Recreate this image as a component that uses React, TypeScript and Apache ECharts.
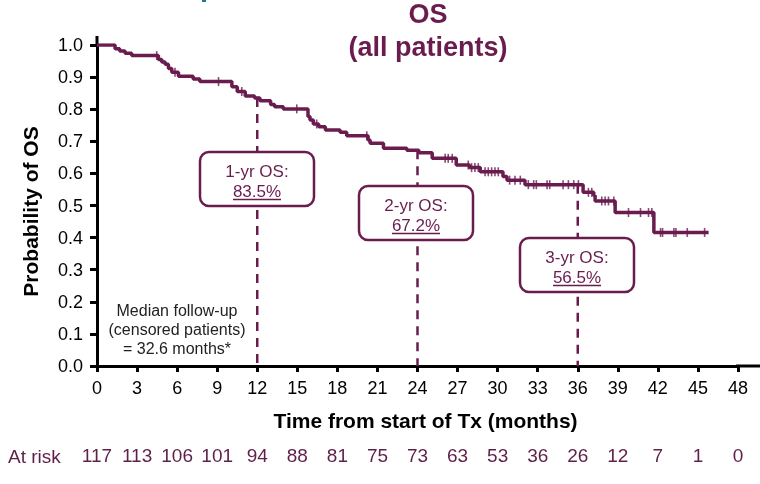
import React, { useEffect, useRef } from "react";
import * as echarts from "echarts";

const PURPLE = "#6a1c4f";
const FONT = "Arial, 'Liberation Sans', sans-serif";

// Kaplan–Meier overall survival (all patients)
const kmTimes = [
  0, 1.35, 1.7, 2.1, 2.6, 4.6, 4.85, 5.1, 5.35, 5.6, 6.1, 7.2, 7.7, 10.1, 10.5, 11.1,
  11.8, 12.2, 13.0, 13.3, 13.95, 15.8, 15.95, 16.2, 16.6, 17.1, 18.2, 18.7, 20.3, 20.45,
  21.45, 23.2, 24.1, 25.1, 26.9, 27.9, 28.7, 30.4, 30.7, 32.05, 36.4, 37.2, 37.3, 38.8,
  41.7, 45.8,
];
const kmSurvival = [
  1.0, 0.988, 0.981, 0.974, 0.967, 0.955, 0.947, 0.94, 0.927, 0.915, 0.903, 0.894, 0.886,
  0.87, 0.855, 0.841, 0.835, 0.826, 0.815, 0.808, 0.801, 0.777, 0.766, 0.754, 0.745, 0.735,
  0.728, 0.717, 0.704, 0.694, 0.678, 0.672, 0.664, 0.647, 0.626, 0.618, 0.605, 0.59, 0.579,
  0.565, 0.541, 0.531, 0.514, 0.478, 0.416, 0.416,
];
const censorTimes = [
  4.47, 5.84, 9.1, 10.84, 14.96, 16.45, 20.2, 26.07, 26.3, 26.6, 27.8, 28.05, 28.3, 28.55,
  29.06, 29.3, 29.55, 29.8, 30.05, 30.9, 31.3, 31.7, 32.3, 32.7, 32.9, 33.7, 33.9, 34.9,
  35.3, 35.7, 36.05, 36.8, 37.05, 37.8, 38.05, 38.3, 38.7, 39.8, 40.7, 41.3, 41.55, 42.2,
  42.35, 43.2, 43.35, 44.2, 45.5,
];

const milestoneMonths = [12, 24, 36];
const milestoneLabels = ["1-yr OS:", "2-yr OS:", "3-yr OS:"];
const milestoneValues = [0.835, 0.672, 0.565];

const atRisk = [117, 113, 106, 101, 94, 88, 81, 75, 73, 63, 53, 36, 26, 12, 7, 1, 0];

const yTicks = { min: 0, max: 1, interval: 0.1 };
const xTicks = { min: 0, max: 48, interval: 3 };

// layout of annotation boxes (top-left corners)
const boxPos = [
  [200, 152],
  [359, 186],
  [520, 238],
];

function survivalAt(t: number): number {
  let s = kmSurvival[0];
  for (let i = 0; i < kmTimes.length; i++) {
    if (kmTimes[i] <= t) s = kmSurvival[i];
  }
  return s;
}

export default function App() {
  const ref = useRef<HTMLDivElement>(null);
  useEffect(() => {
    const chart = echarts.init(ref.current!, null, { renderer: "svg" });

    const boxGraphics: any[] = [];
    milestoneMonths.forEach((m, i) => {
      const [bx, by] = boxPos[i];
      const w = 114;
      const h = 54;
      const cx = bx + w / 2;
      const pct = (milestoneValues[i] * 100).toFixed(1) + "%";
      boxGraphics.push(
        {
          type: "rect",
          z: 100,
          shape: { x: bx, y: by, width: w, height: h, r: 9 },
          style: { fill: "#fff", stroke: PURPLE, lineWidth: 2.5 },
        },
        {
          type: "text",
          z: 101,
          x: cx,
          y: by + 19.5,
          style: {
            text: milestoneLabels[i],
            fill: PURPLE,
            font: `17px ${FONT}`,
            align: "center",
            verticalAlign: "middle",
          },
        },
        {
          type: "text",
          z: 101,
          x: cx,
          y: by + 39.5,
          style: {
            text: pct,
            fill: PURPLE,
            font: `17px ${FONT}`,
            align: "center",
            verticalAlign: "middle",
          },
        },
        {
          type: "line",
          z: 101,
          shape: { x1: cx - 24, y1: by + 47.5, x2: cx + 24, y2: by + 47.5 },
          style: { stroke: PURPLE, lineWidth: 1.3 },
        }
      );
    });

    const option: any = {
      animation: false,
      grid: { left: 97, right: 22, top: 45, bottom: 118, containLabel: false },
      xAxis: [
        {
          type: "value",
          min: xTicks.min,
          max: xTicks.max,
          interval: xTicks.interval,
          name: "Time from start of Tx (months)",
          nameLocation: "middle",
          nameGap: 44,
          nameTextStyle: {
            fontFamily: FONT,
            fontSize: 21,
            fontWeight: "bold",
            color: "#000",
            padding: [0, 0, 0, 16],
          },
          axisLine: { lineStyle: { color: "#000", width: 3 } },
          axisTick: { length: 6, lineStyle: { color: "#000", width: 3 } },
          axisLabel: { fontFamily: FONT, fontSize: 18, color: "#000", margin: 13 },
          splitLine: { show: false },
        },
        {
          type: "value",
          gridIndex: 0,
          min: xTicks.min,
          max: xTicks.max,
          interval: xTicks.interval,
          position: "bottom",
          offset: 80,
          axisLine: { show: false },
          axisTick: { show: false },
          splitLine: { show: false },
          axisLabel: {
            margin: 0,
            fontFamily: FONT,
            fontSize: 19,
            color: "#5e1f48",
            formatter: (v: number) => {
              const k = Math.round(v / xTicks.interval);
              return atRisk[k] !== undefined ? String(atRisk[k]) : "";
            },
          },
        },
      ],
      yAxis: {
        type: "value",
        min: yTicks.min,
        max: yTicks.max,
        interval: yTicks.interval,
        name: "Probability of OS",
        nameLocation: "middle",
        nameGap: 56,
        nameTextStyle: {
          fontFamily: FONT,
          fontSize: 21,
          fontWeight: "bold",
          color: "#000",
          padding: [0, 12, 0, 0],
        },
        axisLine: { lineStyle: { color: "#000", width: 3 } },
        axisTick: { length: 7, lineStyle: { color: "#000", width: 3 } },
        axisLabel: {
          fontFamily: FONT,
          fontSize: 18,
          color: "#000",
          margin: 14,
          formatter: (v: number) => v.toFixed(1),
        },
        splitLine: { show: false },
      },
      series: [
        ...milestoneMonths.map((m, i) => ({
          type: "line",
          z: 1,
          silent: true,
          showSymbol: false,
          data: [
            [m, milestoneValues[i]],
            [m, 0],
          ],
          lineStyle: { color: PURPLE, width: 2.5, type: [9, 7] },
        })),
        {
          type: "line",
          step: "end",
          z: 3,
          showSymbol: false,
          data: kmTimes.map((t, i) => [t, kmSurvival[i]]),
          lineStyle: { color: PURPLE, width: 3.5 },
        },
        {
          type: "scatter",
          z: 4,
          symbol: "rect",
          symbolSize: [1.6, 9],
          itemStyle: { color: PURPLE },
          data: censorTimes.map((t) => [t, survivalAt(t)]),
        },
      ],
      graphic: [
        {
          type: "line",
          shape: { x1: 97, y1: 36, x2: 97, y2: 46 },
          style: { stroke: "#000", lineWidth: 3 },
        },
        {
          type: "line",
          shape: { x1: 736, y1: 366, x2: 760, y2: 366 },
          style: { stroke: "#000", lineWidth: 3 },
        },
        {
          type: "rect",
          shape: { x: 202, y: 0, width: 4, height: 2 },
          style: { fill: "#1b7c8a" },
        },
        {
          type: "text",
          x: 428,
          y: 14,
          style: {
            text: "OS",
            fill: PURPLE,
            font: `bold 27px ${FONT}`,
            align: "center",
            verticalAlign: "middle",
          },
        },
        {
          type: "text",
          x: 428,
          y: 47,
          style: {
            text: "(all patients)",
            fill: PURPLE,
            font: `bold 27px ${FONT}`,
            align: "center",
            verticalAlign: "middle",
          },
        },
        {
          type: "text",
          x: 177,
          y: 301,
          style: {
            text: "Median follow-up\n(censored patients)\n= 32.6 months*",
            fill: "#222",
            font: `16px ${FONT}`,
            lineHeight: 19,
            align: "center",
            verticalAlign: "top",
          },
        },
        {
          type: "text",
          x: 8,
          y: 456,
          style: {
            text: "At risk",
            fill: "#5e1f48",
            font: `19px ${FONT}`,
            align: "left",
            verticalAlign: "middle",
          },
        },
        ...boxGraphics,
      ],
    };

    chart.setOption(option);
    return () => chart.dispose();
  }, []);

  return (
    <div
      ref={ref}
      style={{ position: "fixed", left: 0, top: 0, width: 760, height: 484 }}
    />
  );
}
